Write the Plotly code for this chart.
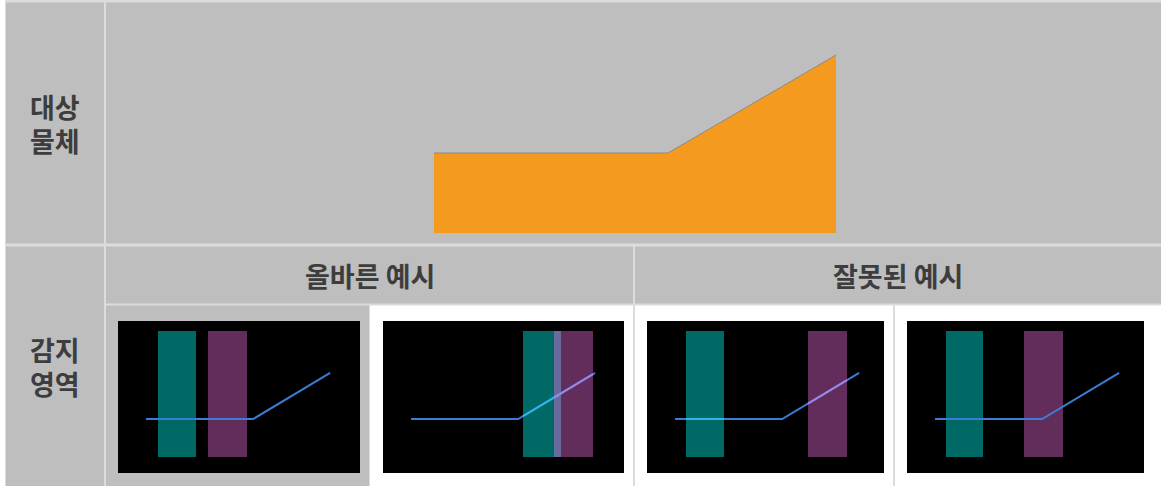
import numpy as np
import plotly.graph_objects as go

# ---- data -------------------------------------------------------------
row_labels = [["대상", "물체"], ["감지", "영역"]]
example_headers = ["올바른 예시", "잘못된 예시"]

# target object profile (horizontal distance, height above base)
object_x = [0, 234, 402]
object_h = [80, 80, 178]

# sensing areas inside each example frame (frame units, left/right)
teal_spans = [[40, 78], [140, 178], [39, 77], [39, 76]]
purple_spans = [[90, 129], [171, 210], [161, 200], [117, 156]]
# does the example show the profile being picked up inside the areas
detected = [False, True, True, False]

# ---- layout constants -------------------------------------------------
W, H = 1161, 486
GRID = "#dcdcdc"
CELL = "#bebebe"
TXT = "#3d3d3d"
FONT = "Noto Sans CJK KR"

x_left, x_label, x_content = 6, 104, 106
x_split = [633, 635]
sub_cells = [[106, 369], [370, 633], [635, 893], [895, W]]
sub_fill = [CELL, "white", "white", "white"]
y_top, y_row1, y_row2, y_head, y_sub = 2.5, 243.5, 246.5, 303.5, 305.5

object_left, object_base = 434, 233
frame_left = [118, 383, 647, 907]
frame_width = [242, 241, 237, 237]
frame_top, frame_height = 321, 152
area_top, area_bottom = 10, 136
line_start, line_base = 28, 98
sx, sy = 0.458, 0.47
line_gap = 34

fig = go.Figure()
shapes = []


def rect(x0, y0, x1, y1, color):
    shapes.append(dict(type="rect", x0=x0, x1=x1, y0=y0, y1=y1, layer="below",
                       fillcolor=color, line=dict(width=0)))


# table grid
rect(x_left - 1, 0, W, H, GRID)
rect(x_left, y_top, x_label, y_row1, CELL)
rect(x_content, y_top, W, y_row1, CELL)
rect(x_left, y_row2, x_label, H, CELL)
rect(x_content, y_row2, x_split[0], y_head, CELL)
rect(x_split[1], y_row2, W, y_head, CELL)
for (c0, c1), col in zip(sub_cells, sub_fill):
    rect(c0, y_sub, c1, H, col)

# target object
ox = np.array(object_x) + object_left
oy = object_base - np.array(object_h)
fig.add_trace(go.Scatter(
    x=np.concatenate([ox, [ox[-1], ox[0]]]),
    y=np.concatenate([oy, [object_base, object_base]]),
    mode="lines", fill="toself", fillcolor="#f39a1f",
    line=dict(width=0), hoverinfo="skip"))
fig.add_trace(go.Scatter(x=ox, y=oy, mode="lines",
                         line=dict(color="#8c8a86", width=1), hoverinfo="skip"))

# sensing examples
px = np.array(object_x) * sx + line_start
py = line_base - (np.array(object_h) - object_h[0]) * sy
for i in range(4):
    fx, fy = frame_left[i], frame_top
    rect(fx, fy, fx + frame_width[i], fy + frame_height, "black")
    t0, t1 = teal_spans[i]
    p0, p1 = purple_spans[i]
    rect(fx + t0, fy + area_top, fx + t1, fy + area_bottom, "#006966")
    rect(fx + p0, fy + area_top, fx + p1, fy + area_bottom, "#622d5b")
    if max(t0, p0) < min(t1, p1):
        rect(fx + max(t0, p0), fy + area_top, fx + min(t1, p1), fy + area_bottom, "#686b9b")

    fig.add_trace(go.Scatter(x=fx + px, y=fy + py, mode="lines",
                             line=dict(color="#3b7dd6", width=2), hoverinfo="skip"))
    if detected[i]:
        for (a, b), col in [((t0, t1), "#2fb6e8"), ((p0, p1), "#9a88e4")]:
            a, b = max(a, px[0]), min(b, px[-1])
            seg = np.concatenate([[a], px[(px > a) & (px < b)], [b]])
            fig.add_trace(go.Scatter(x=fx + seg, y=fy + np.interp(seg, px, py),
                                     mode="lines", line=dict(color=col, width=2),
                                     hoverinfo="skip"))

# texts
annotations = []


def label(x, y, text):
    annotations.append(dict(x=x, y=y, xref="x", yref="y", text="<b>%s</b>" % text,
                            showarrow=False, font=dict(family=FONT, size=27, color=TXT)))


for lines, (r0, r1) in zip(row_labels, [(y_top, y_row1), (y_row2, H)]):
    mid = (r0 + r1) / 2
    for k, txt in enumerate(lines):
        label((x_left + x_label) / 2, mid + (k - (len(lines) - 1) / 2) * line_gap, txt)
label((x_content + x_split[0]) / 2, (y_row2 + y_head) / 2, example_headers[0])
label((x_split[1] + W) / 2, (y_row2 + y_head) / 2, example_headers[1])

fig.update_layout(
    width=W, height=H, margin=dict(l=0, r=0, t=0, b=0),
    paper_bgcolor="white", plot_bgcolor="white", showlegend=False,
    xaxis=dict(range=[0, W], visible=False, fixedrange=True),
    yaxis=dict(range=[H, 0], visible=False, fixedrange=True),
    shapes=shapes, annotations=annotations,
)
fig.write_html("out.html", config={"displayModeBar": False},
               post_script="document.body.style.margin='0';")
